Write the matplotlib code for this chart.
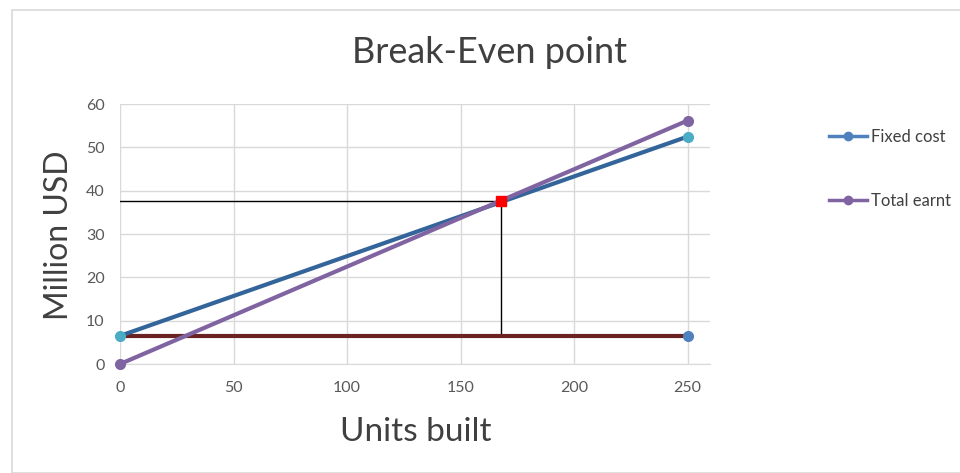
import matplotlib
matplotlib.use('Agg')
import matplotlib.pyplot as plt
from matplotlib.lines import Line2D
from matplotlib.patches import Rectangle

# data
units = [0, 250]
fixed_cost = [6.5, 6.5]
total_cost = [6.5, 52.5]
total_earnt = [0, 56.2]
break_even = (168, 37.6)

x_ticks = [0, 50, 100, 150, 200, 250]
y_ticks = [0, 10, 20, 30, 40, 50, 60]

plt.rcParams['font.family'] = ['Lato', 'DejaVu Sans']

fig = plt.figure(figsize=(9.6, 4.73), dpi=100)
fig.patches.append(Rectangle((12 / 960, 0.0), 1.0, 1 - 10 / 473,
                             transform=fig.transFigure, fill=False,
                             edgecolor='#d9d9d9', linewidth=1.2))
ax = fig.add_axes([0.125, 0.2304, 0.615, 0.5496])

ax.set_xlim(0, 260)
ax.set_ylim(0, 60)
ax.set_xticks(x_ticks)
ax.set_yticks(y_ticks)
ax.grid(True, color='#d9d9d9', linewidth=1)
ax.set_axisbelow(True)
for side in ('top', 'right', 'left'):
    ax.spines[side].set_visible(False)
ax.spines['bottom'].set_color('#d9d9d9')
ax.tick_params(length=0, colors='#595959', labelsize=11.5)
ax.tick_params(axis='x', pad=12)
ax.tick_params(axis='y', pad=11)

# guide lines to the break-even point
ax.plot([0, break_even[0]], [break_even[1], break_even[1]], color='black', linewidth=1, zorder=2)
ax.plot([break_even[0], break_even[0]], [fixed_cost[0], break_even[1]], color='black', linewidth=1, zorder=2)

ax.plot(units, fixed_cost, color='#6b2222', linewidth=3, zorder=3, clip_on=False)
ax.plot(units[1:], fixed_cost[1:], 'o', color='#4f81bd', markersize=7, zorder=5, clip_on=False)
ax.plot(units, total_cost, color='#33659a', linewidth=3, marker='o',
        markersize=7, markerfacecolor='#4bacc6', markeredgecolor='#4bacc6', zorder=4, clip_on=False)
ax.plot(units, total_earnt, color='#8064a2', linewidth=3, marker='o',
        markersize=7, zorder=4, clip_on=False)
ax.plot([break_even[0]], [break_even[1]], 's', color='#ff0000', markersize=7, zorder=6)

fig.text(0.51, 0.89, 'Break-Even point', fontsize=26, color='#404040',
         ha='center', va='center')
fig.text(0.433, 0.087, 'Units built', fontsize=24, color='#404040',
         ha='center', va='center')
fig.text(0.061, 0.503, 'Million USD', fontsize=23, color='#404040',
         ha='center', va='center', rotation=90)

handles = [Line2D([], [], color='#4f81bd', linewidth=2.5, marker='o', markersize=6),
           Line2D([], [], color='#8064a2', linewidth=2.5, marker='o', markersize=6)]
fig.legend(handles, ['Fixed cost', 'Total earnt'], loc='upper left',
           bbox_to_anchor=(0.848, 0.76), frameon=False, fontsize=12,
           labelcolor='#404040', handlelength=2.3, handletextpad=0.2,
           labelspacing=2.9)

fig.savefig('out.png', dpi=100)
